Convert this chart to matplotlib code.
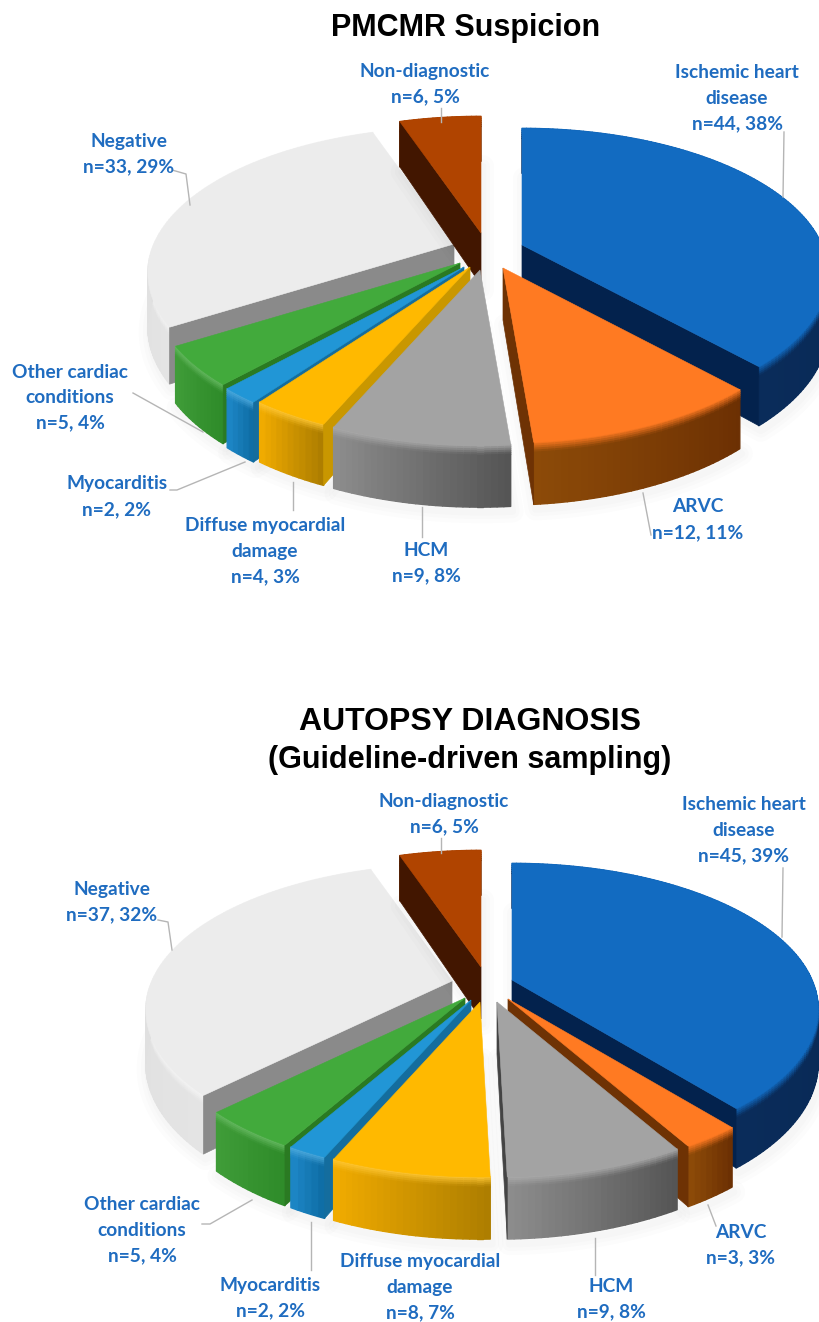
import numpy as np
import matplotlib
matplotlib.use("Agg")
import matplotlib.pyplot as plt
from matplotlib.collections import PolyCollection
from matplotlib.colors import to_rgb
from matplotlib.patches import Polygon

# chart values
categories = ["Ischemic heart disease", "ARVC", "HCM", "Diffuse myocardial damage",
              "Myocarditis", "Other cardiac conditions", "Negative", "Non-diagnostic"]
suspicion_n = [44, 12, 9, 4, 2, 5, 33, 6]
suspicion_pct = [38, 11, 8, 3, 2, 4, 29, 5]
autopsy_n = [45, 3, 9, 8, 2, 5, 37, 6]
autopsy_pct = [39, 3, 8, 7, 2, 4, 32, 5]

# colours, same order as categories
top_colors = ["#126bc1", "#ff7a22", "#a3a3a3", "#ffb900", "#2196d6", "#42aa3c", "#ececec", "#b04400"]
wall_start = ["#04224c", "#6c3003", "#555555", "#ae7e00", "#0f6ea6", "#2f8c2a", "#e4e4e4", "#6d2a00"]
wall_end = ["#0a2c5a", "#8c4a08", "#8c8c8c", "#f0ab00", "#1c85c4", "#3f9c38", "#d8d8d8", "#6d2a00"]
cut_colors = ["#03224d", "#6e3204", "#444444", "#c99700", "#146d9e", "#2a7a22", "#8a8a8a", "#421600"]
bevel_light = [0.0, 0.0, 0.08, 0.2, 0.2, 0.2, 0.5, 0.0]
draw_order = [6, 7, 0, 5, 4, 3, 1, 2]

text_color = "#1f6cc0"
leader_color = "#b5b5b5"

# projection of the tilted disc, in pixels
RX = 300
RY = 140
TILT = 0.2
DEPTH = 52
BEVEL = 10

# where each slice's tip sits after exploding
suspicion_tips = [(522, 245), (503, 268), (480, 270), (470, 267), (464, 267), (460, 263), (454, 244), (481, 233)]
autopsy_tips = [(512, 980), (508, 999), (497, 1002), (480, 1002), (471, 1000), (465, 998), (452, 981), (481, 967)]

# label anchor: centre x, first line y
suspicion_labels = [(737, 73), (698, 507), (426, 550), (265, 526), (117, 484), (70, 372), (129, 141), (425, 71)]
autopsy_labels = [(744, 805), (741, 1232), (611, 1286), (420, 1262), (270, 1285), (142, 1205), (112, 889), (444, 801)]
label_lines = [["Ischemic heart", "disease"], ["ARVC"], ["HCM"], ["Diffuse myocardial", "damage"],
               ["Myocarditis"], ["Other cardiac", "conditions"], ["Negative"], ["Non-diagnostic"]]

suspicion_leaders = [[(784, 132), (783, 197)], [(651, 535), (643, 493)], [(422, 537), (422, 507)],
                     [(293, 510), (293, 482)], [(170, 490), (177, 490), (245, 462)],
                     [(133, 393), (203, 432)], [(172, 170), (186, 174), (190, 205)], [(441, 108), (441, 122)]]
autopsy_leaders = [[(783, 868), (782, 937)], [(716, 1226), (708, 1205)], [(595, 1275), (595, 1238)],
                   [], [(311, 1270), (311, 1222)],
                   [(202, 1224), (210, 1224), (252, 1200)], [(158, 920), (168, 922), (172, 950)],
                   [(441, 838), (441, 853)]]


def mix(a, b, t):
    a, b = np.array(to_rgb(a)), np.array(to_rgb(b))
    return tuple(a + (b - a) * t)


def rim(tip, start, end):
    theta = np.linspace(start, end, max(int(np.degrees(end - start)), 6))
    x = np.sin(theta)
    y = np.cos(theta)
    w = 1 + TILT * y
    return tip[0] + RX * x / w, tip[1] - RY * y / w, DEPTH / w ** 0.8


def draw_slice(ax, i, tip, start, end):
    px, py, depth = rim(tip, start, end)
    top = np.column_stack([np.r_[tip[0], px], np.r_[tip[1], py]])

    # soft shadow under the slice
    base = np.column_stack([np.r_[tip[0], px], np.r_[tip[1] + DEPTH, py + depth]])
    for lw in [16, 10, 5]:
        ax.add_patch(Polygon(base + [2, 5], closed=True, fc="none", ec="k", lw=lw, alpha=0.012, joinstyle="round"))

    # outer wall, strip by strip, fading in from the top colour
    light = mix(top_colors[i], "#ffffff", bevel_light[i])
    strips, colors = [], []
    for j in range(len(px) - 1):
        frac = j / max(len(px) - 2, 1)
        c = mix(wall_start[i], wall_end[i], frac)
        steps = np.linspace(0, BEVEL, 6)
        for s in range(5):
            col = mix(light, c, (s + 0.5) / 5)
            strips.append([(px[j], py[j] + steps[s]), (px[j + 1], py[j + 1] + steps[s]),
                           (px[j + 1], py[j + 1] + steps[s + 1]), (px[j], py[j] + steps[s + 1])])
            colors.append(col)
        strips.append([(px[j], py[j] + BEVEL), (px[j + 1], py[j + 1] + BEVEL),
                       (px[j + 1], py[j + 1] + depth[j + 1]), (px[j], py[j] + depth[j])])
        colors.append(c)
    ax.add_collection(PolyCollection(strips, facecolors=colors, edgecolors=colors, linewidths=1))

    # radial cut walls, only those facing the viewer
    for k, sign in [(0, -1), (-1, 1)]:
        if (px[k] - tip[0]) * sign > 0:
            wall = [(tip[0], tip[1]), (px[k], py[k]), (px[k], py[k] + depth[k]), (tip[0], tip[1] + DEPTH)]
            ax.add_patch(Polygon(wall, closed=True, fc=cut_colors[i], ec=cut_colors[i], lw=0.5))

    ax.add_patch(Polygon(top, closed=True, fc=top_colors[i], ec=top_colors[i], lw=0.4))


def draw_pie(ax, values, pcts, tips, labels, leaders):
    edges = np.r_[0, np.cumsum(values)] / sum(values) * 2 * np.pi
    for i in draw_order:
        draw_slice(ax, i, tips[i], edges[i], edges[i + 1])
    for i in range(len(values)):
        if leaders[i]:
            pts = np.array(leaders[i])
            ax.plot(pts[:, 0], pts[:, 1], color=leader_color, lw=1, zorder=20)
        lines = label_lines[i] + [f"n={values[i]}, {pcts[i]}%"]
        for k, line in enumerate(lines):
            ax.text(labels[i][0], labels[i][1] + k * 25.3, line, ha="center", va="center",
                    color=text_color, fontsize=13.8, fontweight="bold", family="Lato", zorder=21)


fig = plt.figure(figsize=(8.19, 13.22), dpi=100)
ax = fig.add_axes([0, 0, 1, 1])
ax.set_xlim(0, 819)
ax.set_ylim(1322, 0)
ax.axis("off")

draw_pie(ax, suspicion_n, suspicion_pct, suspicion_tips, suspicion_labels, suspicion_leaders)
draw_pie(ax, autopsy_n, autopsy_pct, autopsy_tips, autopsy_labels, autopsy_leaders)

title_font = dict(ha="center", va="center", fontweight="bold", family="Liberation Sans", color="black")
ax.text(466, 28, "PMCMR Suspicion", fontsize=22, **title_font)
ax.text(470, 722, "AUTOPSY DIAGNOSIS", fontsize=23, **title_font)
ax.text(470, 760, "(Guideline-driven sampling)", fontsize=22, **title_font)

fig.savefig("out.png", dpi=100)
